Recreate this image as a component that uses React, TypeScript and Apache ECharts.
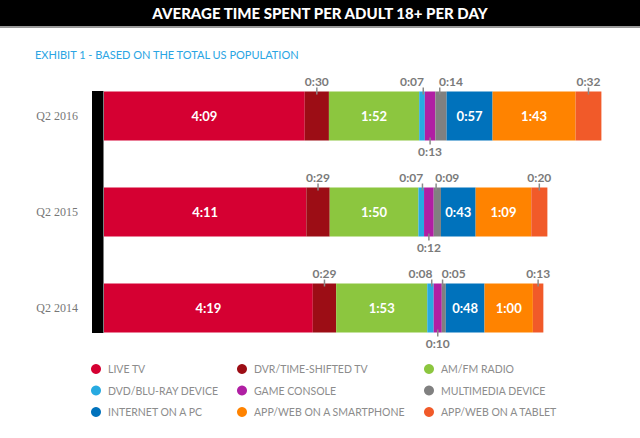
import React, { useEffect, useRef } from 'react';
import * as echarts from 'echarts';

// ---- data (minutes per day) ----
const categories = ['Q2 2016', 'Q2 2015', 'Q2 2014'];
const liveTv = [249, 251, 259];
const dvrTimeShifted = [30, 29, 29];
const amFmRadio = [112, 110, 113];
const dvdBluRay = [7, 7, 8];
const gameConsole = [13, 12, 10];
const multimediaDevice = [14, 9, 5];
const internetOnPc = [57, 43, 48];
const smartphone = [103, 69, 60];
const tablet = [32, 20, 13];

const legendColumns = [
  ['LIVE TV', 'DVD/BLU-RAY DEVICE', 'INTERNET ON A PC'],
  ['DVR/TIME-SHIFTED TV', 'GAME CONSOLE', 'APP/WEB ON A SMARTPHONE'],
  ['AM/FM RADIO', 'MULTIMEDIA DEVICE', 'APP/WEB ON A TABLET'],
];

const fmt = (m: number) => `${Math.floor(m / 60)}:${String(m % 60).padStart(2, '0')}`;

type Kind = 'inside' | 'top' | 'bottom';
const seriesDefs: { name: string; data: number[]; color: string; kind: Kind; shift: number }[] = [
  { name: 'LIVE TV', data: liveTv, color: '#d50032', kind: 'inside', shift: 0 },
  { name: 'DVR/TIME-SHIFTED TV', data: dvrTimeShifted, color: '#9c0d15', kind: 'top', shift: 0 },
  { name: 'AM/FM RADIO', data: amFmRadio, color: '#8cc63f', kind: 'inside', shift: 0 },
  { name: 'DVD/BLU-RAY DEVICE', data: dvdBluRay, color: '#27aae1', kind: 'top', shift: -1 },
  { name: 'GAME CONSOLE', data: gameConsole, color: '#b01fa3', kind: 'bottom', shift: 0 },
  { name: 'MULTIMEDIA DEVICE', data: multimediaDevice, color: '#808080', kind: 'top', shift: 1 },
  { name: 'INTERNET ON A PC', data: internetOnPc, color: '#0072bc', kind: 'inside', shift: 0 },
  { name: 'APP/WEB ON A SMARTPHONE', data: smartphone, color: '#ff8300', kind: 'inside', shift: 0 },
  { name: 'APP/WEB ON A TABLET', data: tablet, color: '#f15a29', kind: 'top', shift: 0 },
];

function makeLabel(kind: Kind, shift: number) {
  if (kind === 'inside') {
    return {
      show: true,
      position: 'inside',
      color: '#fff',
      fontFamily: 'Lato',
      fontWeight: 'bold',
      fontSize: 13,
      formatter: (p: any) => fmt(p.value),
    };
  }
  const tickAlign = shift < 0 ? 'right' : shift > 0 ? 'left' : 'center';
  const rich = {
    v: { color: '#7a7a7a', fontFamily: 'Lato', fontWeight: 'bold', fontSize: 12, lineHeight: 13, align: 'center' },
    t: { width: 1.5, height: 7, lineHeight: 7, fontSize: 1, backgroundColor: '#8a8a8a', align: tickAlign },
  };
  return {
    show: true,
    position: kind,
    distance: -3,
    offset: [shift * 10, 0],
    formatter: (p: any) =>
      kind === 'top' ? `{v|${fmt(p.value)}}\n{t| }` : `{t| }\n{v|${fmt(p.value)}}`,
    rich,
  };
}

export default function App() {
  const ref = useRef<HTMLDivElement>(null);
  useEffect(() => {
    if (!ref.current) return;
    const chart = echarts.init(ref.current, undefined, { renderer: 'svg' });
    chart.setOption({
      animation: false,
      backgroundColor: '#fff',
      title: [
        {
          text: 'AVERAGE TIME SPENT PER ADULT 18+ PER DAY',
          left: 'center',
          top: 5,
          padding: 0,
          textStyle: { color: '#fff', fontSize: 15, fontWeight: 900, fontFamily: 'Lato' },
        },
        {
          text: 'EXHIBIT 1 - BASED ON THE TOTAL US POPULATION',
          left: 35,
          top: 49,
          padding: 0,
          textStyle: { color: '#2aa5e3', fontSize: 11, fontWeight: 'normal', fontFamily: 'Lato' },
        },
      ],
      graphic: [
        { type: 'rect', z: -1, shape: { x: 0, y: 0, width: 640, height: 26 }, style: { fill: '#000' } },
        { type: 'rect', z: -1, shape: { x: 0, y: 26, width: 640, height: 2 }, style: { fill: '#9a9a9a' } },
        { type: 'rect', shape: { x: 92, y: 91, width: 11.5, height: 242 }, style: { fill: '#000' } },
      ],
      legend: legendColumns.map((col, i) => ({
        data: col,
        orient: 'vertical',
        left: [91, 237, 424][i],
        top: 363,
        padding: 0,
        icon: 'circle',
        itemWidth: 10,
        itemHeight: 10,
        itemGap: 9.5,
        selectedMode: false,
        textStyle: {
          color: '#8c8c8c',
          fontSize: 10.5,
          lineHeight: 12,
          fontFamily: 'Lato',
          padding: [0, 0, 0, 2],
        },
      })),
      grid: { left: 104, right: 12, top: 68, bottom: 82 },
      xAxis: { type: 'value', min: 0, max: 650, show: false },
      yAxis: {
        type: 'category',
        data: categories,
        inverse: true,
        axisLine: { show: false },
        axisTick: { show: false },
        axisLabel: { color: '#777', fontFamily: 'Liberation Serif', fontSize: 12, margin: 26 },
      },
      series: seriesDefs.map((s) => ({
        name: s.name,
        type: 'bar',
        stack: 'total',
        barWidth: 49,
        itemStyle: { color: s.color },
        label: makeLabel(s.kind, s.shift),
        data: s.data,
      })),
    });
    return () => chart.dispose();
  }, []);
  return (
    <div
      ref={ref}
      style={{ position: 'fixed', left: 0, top: 0, width: 640, height: 438 }}
    />
  );
}
